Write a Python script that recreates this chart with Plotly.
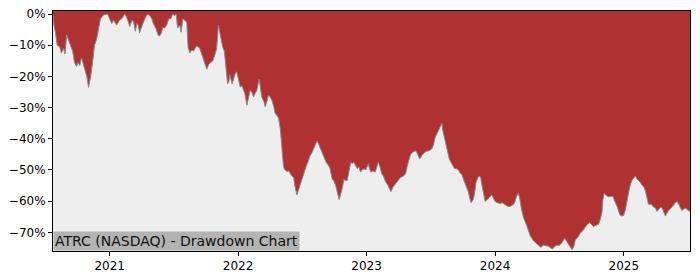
import plotly.graph_objects as go

dates = [
    "2020-07-24","2020-07-26","2020-07-31","2020-08-05","2020-08-12","2020-08-17","2020-08-23","2020-08-27",
    "2020-09-01","2020-09-09","2020-09-18","2020-09-23","2020-09-29","2020-10-03","2020-10-08","2020-10-13",
    "2020-10-22","2020-10-28","2020-11-02","2020-11-08","2020-11-14","2020-11-19","2020-11-25","2020-12-01",
    "2020-12-06","2020-12-15","2020-12-21","2020-12-26",
    "2021-01-01","2021-01-07","2021-01-12","2021-01-21","2021-01-29","2021-02-04","2021-02-13","2021-02-18",
    "2021-02-23","2021-02-27","2021-03-05","2021-03-10","2021-03-15","2021-03-19","2021-03-23","2021-03-27",
    "2021-04-02","2021-04-08","2021-04-13","2021-04-19","2021-04-25","2021-05-01","2021-05-05","2021-05-12",
    "2021-05-19","2021-05-23","2021-05-28","2021-06-01","2021-06-06","2021-06-12","2021-06-18","2021-06-24",
    "2021-06-29","2021-07-05","2021-07-09","2021-07-13","2021-07-19","2021-07-23","2021-07-28","2021-08-02",
    "2021-08-08","2021-08-12","2021-08-17","2021-08-22","2021-08-28","2021-09-04","2021-09-10","2021-09-14",
    "2021-09-20","2021-09-24","2021-09-28","2021-10-04","2021-10-10","2021-10-15","2021-10-21","2021-10-27",
    "2021-11-01","2021-11-06","2021-11-10","2021-11-13","2021-11-18","2021-11-23","2021-11-27","2021-12-02",
    "2021-12-06","2021-12-08","2021-12-15","2021-12-18","2021-12-23","2021-12-28",
    "2022-01-03","2022-01-07","2022-01-12","2022-01-16","2022-01-20","2022-01-26","2022-01-30","2022-02-04",
    "2022-02-09","2022-02-14","2022-02-18","2022-02-23","2022-03-02","2022-03-05","2022-03-09","2022-03-15",
    "2022-03-19","2022-03-24","2022-03-28","2022-04-01","2022-04-07","2022-04-13","2022-04-16","2022-04-21",
    "2022-04-26","2022-05-01","2022-05-05","2022-05-10","2022-05-14","2022-05-20","2022-05-25","2022-05-31",
    "2022-06-08","2022-06-11","2022-06-17","2022-06-21","2022-06-26","2022-07-01","2022-07-06","2022-07-13",
    "2022-07-20","2022-07-24","2022-07-30","2022-08-04","2022-08-09","2022-08-13","2022-08-17","2022-08-22",
    "2022-08-27","2022-09-01","2022-09-08","2022-09-15","2022-09-19","2022-09-25","2022-09-30","2022-10-05",
    "2022-10-09","2022-10-15","2022-10-19","2022-10-24","2022-10-29","2022-11-02","2022-11-07","2022-11-12",
    "2022-11-17","2022-11-21","2022-11-26","2022-11-30","2022-12-06","2022-12-10","2022-12-15","2022-12-19",
    "2022-12-25","2022-12-30",
    "2023-01-06","2023-01-09","2023-01-13","2023-01-19","2023-01-25","2023-01-29","2023-02-03","2023-02-08",
    "2023-02-13","2023-02-18","2023-02-24","2023-03-03","2023-03-11","2023-03-17","2023-03-25","2023-03-31",
    "2023-04-08","2023-04-15","2023-04-22","2023-04-26","2023-05-02","2023-05-06","2023-05-11","2023-05-16",
    "2023-05-22","2023-05-27","2023-06-01","2023-06-07","2023-06-13","2023-06-21","2023-06-28","2023-07-05",
    "2023-07-10","2023-07-15","2023-07-22","2023-07-27","2023-08-03","2023-08-06","2023-08-12","2023-08-18",
    "2023-08-24","2023-08-31","2023-09-08","2023-09-12","2023-09-19","2023-09-24","2023-09-29","2023-10-05",
    "2023-10-11","2023-10-17","2023-10-21","2023-10-25","2023-10-31","2023-11-04","2023-11-08","2023-11-13",
    "2023-11-17","2023-11-21","2023-11-25","2023-11-30","2023-12-04","2023-12-10","2023-12-13","2023-12-18",
    "2023-12-23","2023-12-28",
    "2024-01-01","2024-01-09","2024-01-16","2024-01-21","2024-01-30","2024-02-06","2024-02-13","2024-02-19",
    "2024-02-23","2024-02-27","2024-03-02","2024-03-07","2024-03-11","2024-03-16","2024-03-22","2024-03-31",
    "2024-04-04","2024-04-10","2024-04-19","2024-04-26","2024-05-04","2024-05-10","2024-05-18","2024-05-25",
    "2024-06-01","2024-06-07","2024-06-13","2024-06-19","2024-06-25","2024-07-01","2024-07-09","2024-07-13",
    "2024-07-18","2024-07-23","2024-07-28","2024-08-02","2024-08-07","2024-08-12","2024-08-16","2024-08-24",
    "2024-08-30","2024-09-06","2024-09-13","2024-09-19","2024-09-26","2024-09-30","2024-10-07","2024-10-12",
    "2024-10-21","2024-10-27","2024-10-31","2024-11-02","2024-11-06","2024-11-12","2024-11-19","2024-11-24",
    "2024-12-01","2024-12-06","2024-12-13","2024-12-18","2024-12-22","2024-12-28","2024-12-31",
    "2025-01-05","2025-01-10","2025-01-15","2025-01-19","2025-01-24","2025-01-29","2025-02-03","2025-02-07",
    "2025-02-13","2025-02-17","2025-02-22","2025-02-27","2025-03-03","2025-03-09","2025-03-12","2025-03-17",
    "2025-03-22","2025-03-27","2025-04-01","2025-04-05","2025-04-10","2025-04-15","2025-04-20","2025-04-25",
    "2025-04-29","2025-05-03","2025-05-08","2025-05-13","2025-05-19","2025-05-23","2025-05-27","2025-06-02",
    "2025-06-08","2025-06-15","2025-06-21","2025-06-25","2025-07-01","2025-07-08",
]

drawdown_pct = [
    0, -3, -6, -10, -10.5, -12.5, -11, -12.8,
    -6.7, -9, -12, -15.5, -16.8, -15.5, -16.5, -14,
    -17.7, -20, -23.5, -20, -15, -10, -8, -5,
    -1.5, -0.2, 0, 0,
    -1.5, -3, -2, -3.5, -2, -1.5, 0, -1,
    -2.5, -4, -2, -2.5, -5.5, -3, -3.5, -6,
    -4, -2, -1, 0, -0.5, -1.5, -3, -4.5,
    -6.8, -7, -6, -4.2, -4.5, -3.5, -1.5, -1.5,
    0, -0.5, 0, -4.5, -3.5, -5.8, -1.5, -2,
    -2.5, -10.8, -12.5, -11.5, -11.8, -10.3, -10.5, -11,
    -13, -15, -16, -17.7, -16, -15.5, -15, -13,
    -11, -3.5, -6, -8.7, -10.5, -12, -16, -22.4,
    -21.5, -19.3, -22.4, -21, -19.3, -18.5,
    -21, -23.4, -23, -24.5, -25.5, -29.2, -27, -24.5,
    -25, -26.6, -25.5, -24.5, -20.8, -23, -26.6, -28,
    -29.7, -28, -26, -26.5, -27.6, -30, -31.8, -32.5,
    -33.4, -37, -43.3, -49, -50, -50.5, -50.3, -51.5,
    -52.5, -55, -58, -56.5, -55, -53.5, -51.7, -49,
    -47, -45.5, -44.4, -43, -41.5, -40.7, -41.5, -42.8,
    -44.5, -46, -47.5, -48.6, -49.5, -52.8, -53.5, -54.9,
    -57, -59.5, -58, -55.9, -52.8, -53.5, -53.3, -50,
    -47.5, -48, -47.5, -48.5, -49.6, -49, -50.7, -50,
    -49.6, -50,
    -48, -49.5, -50.7, -50.3, -50.7, -49.5, -47.5, -49,
    -51.2, -52, -53.8, -55, -57, -55.5, -54.3, -53.5,
    -52.3, -52, -51.2, -49, -46.5, -45, -44.4, -44,
    -43.9, -45, -46.5, -45.4, -44.5, -44, -43.8, -43.3,
    -42, -39.5, -38, -36.5, -35, -37.5, -40.2, -43,
    -46.5, -48, -49.6, -49.5, -50, -51, -51.5, -53.5,
    -55.4, -57, -59, -60.5, -59.5, -57.5, -54, -52.5,
    -52, -52.3, -55, -58.5, -60.1, -59.5, -59, -58.5,
    -58, -59,
    -60.1, -60.6, -60.8, -60.5, -61.2, -61.7, -61.7, -61.3,
    -61, -60, -58.5, -57.5, -59, -62.5, -65.3, -67.8,
    -69, -71.1, -72.7, -73.5, -74.3, -74.8, -74.1, -74.2,
    -74.5, -75, -75.3, -74.5, -74.1, -74.2, -73.4, -72.5,
    -72, -73, -74, -74.8, -75.6, -74.5, -72.5, -71.5,
    -70.3, -69.5, -68.3, -67.5, -66.9, -67.5, -68.2, -67.8,
    -67.5, -65.5, -63.3, -60, -57.5, -58.2, -58.6, -58.5,
    -58.5, -60, -61.7, -63.5, -64.6, -64.8, -64.6,
    -63, -60.5, -57, -54.9, -53.3, -52.5, -52, -52.8,
    -53.5, -54, -54.9, -55.5, -56.6, -59, -61, -61,
    -61.2, -62, -62.2, -63.3, -62.5, -62, -62.2, -63.5,
    -64.8, -64, -63, -62.5, -61.8, -61.2, -60.5, -60.1,
    -61.5, -63, -62.5, -62.3, -62.8, -63.3,
]

y_tick_vals = [0, -10, -20, -30, -40, -50, -60, -70]
y_tick_text = ["0%", "\u221210%", "\u221220%", "\u221230%", "\u221240%", "\u221250%", "\u221260%", "\u221270%"]
x_tick_vals = ["2021-01-01", "2022-01-01", "2023-01-01", "2024-01-01", "2025-01-01"]
x_tick_text = ["2021", "2022", "2023", "2024", "2025"]
label_text = "ATRC (NASDAQ) - Drawdown Chart"

Y_MIN, Y_MAX = -76.0, 1.0
RED = "#b03131"
GRAY_FILL = "#eeeeee"

fig = go.Figure()
fig.add_trace(go.Scatter(
    x=dates, y=[Y_MIN] * len(dates), mode="lines",
    line=dict(width=0, color=GRAY_FILL), hoverinfo="skip", showlegend=False,
))
fig.add_trace(go.Scatter(
    x=dates, y=drawdown_pct, mode="lines",
    line=dict(width=1, color="#8a8a8a"),
    fill="tonexty", fillcolor=GRAY_FILL, showlegend=False,
))

fig.add_annotation(
    x=0, y=0, xref="paper", yref="paper", xanchor="left", yanchor="bottom",
    text=label_text, showarrow=False, bgcolor="#b3b3b3",
    font=dict(family="DejaVu Sans", size=14, color="#111111"),
    borderpad=1,
)

axis_common = dict(
    showgrid=False, zeroline=False, showline=True, linecolor="black", linewidth=1,
    mirror=True, ticks="outside", ticklen=4, tickcolor="black", tickwidth=1,
    tickfont=dict(family="DejaVu Sans", size=12, color="black"),
)

fig.update_xaxes(
    range=[dates[0], dates[-1]], tickmode="array", tickvals=x_tick_vals, ticktext=x_tick_text,
    **axis_common,
)
fig.update_yaxes(
    range=[Y_MIN, Y_MAX], tickmode="array", tickvals=y_tick_vals, ticktext=y_tick_text,
    **axis_common,
)

fig.update_layout(
    width=700, height=280,
    margin=dict(l=53, r=10, t=7, b=28),
    paper_bgcolor="white", plot_bgcolor=RED,
    font=dict(family="DejaVu Sans"),
)

fig.write_html("out.html")
